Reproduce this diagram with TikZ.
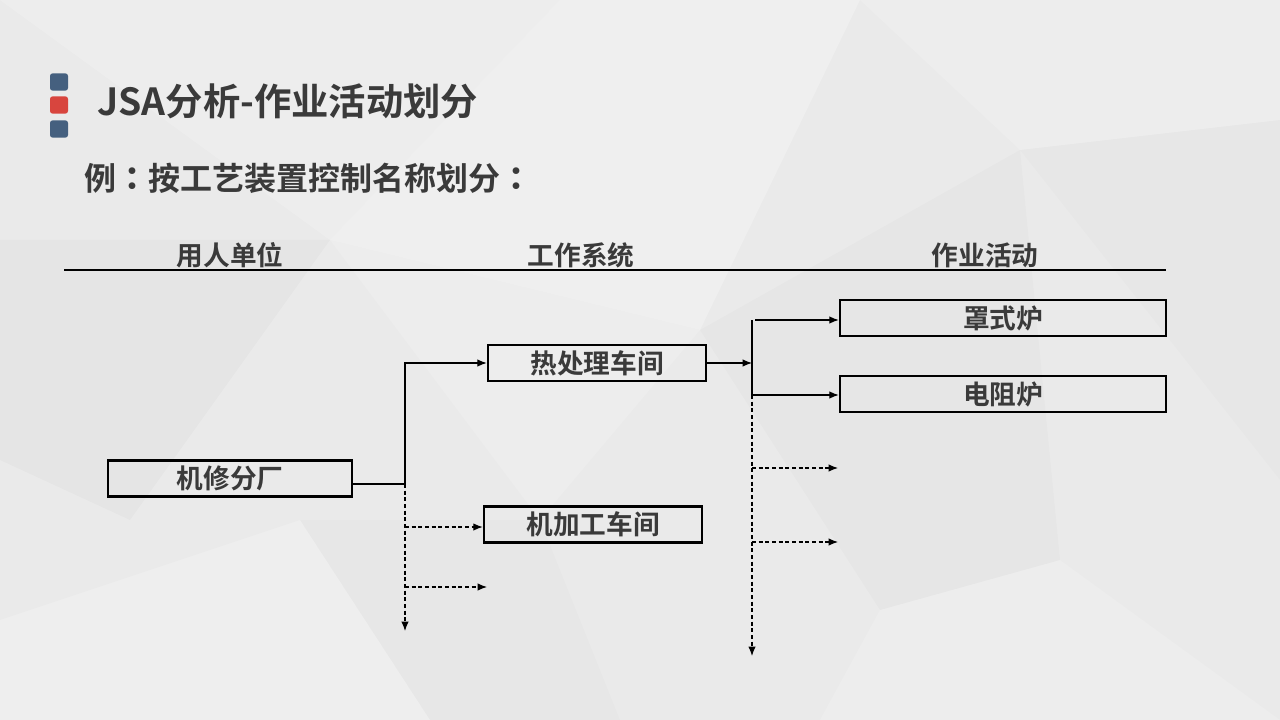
\documentclass[tikz,border=0pt]{standalone}
\usepackage{fontspec}
\setmainfont{Noto Sans CJK SC}[BoldFont={Noto Sans CJK SC Bold}]
\newfontfamily\tcfont{Noto Sans CJK TC Bold}
\usetikzlibrary{arrows.meta}
\definecolor{bgbase}{HTML}{EAEAEA}
\definecolor{txt}{HTML}{3A3A3A}
\definecolor{sqblue}{HTML}{45607F}
\definecolor{sqred}{HTML}{D8453E}
\tikzset{
  boxnode/.style={draw=black, line width=1.9pt, fill=none, minimum height=27pt, inner sep=0pt, font=\bfseries\fontsize{20}{20}\selectfont, text=txt},
  headlbl/.style={font=\bfseries\fontsize{20}{20}\selectfont, text=txt, inner sep=0pt},
  conn/.style={line width=0.8pt, draw=black},
  dsh/.style={dash pattern=on 3pt off 2pt},
  tip/.style={-{Latex[length=7pt,width=5.5pt]}},
  sq/.style={rounded corners=2pt, minimum width=13.5pt, minimum height=13pt, inner sep=0pt}
}
\begin{document}
\begin{tikzpicture}[x=0.75pt,y=-0.75pt]
\useasboundingbox (0,0) rectangle (1280,720);
% background
\fill[bgbase] (0,0) rectangle (1280,720);
\fill[white,opacity=0.18] (0,0) -- (560,0) -- (330,240) -- cycle;
\fill[white,opacity=0.25] (330,240) -- (560,0) -- (860,0) -- (700,330) -- cycle;
\fill[white,opacity=0.15] (860,0) -- (1280,0) -- (1280,120) -- (1020,150) -- cycle;
\fill[black,opacity=0.012] (1020,150) -- (1280,120) -- (1280,480) -- cycle;
\fill[black,opacity=0.018] (0,240) -- (330,240) -- (130,520) -- (0,460) -- cycle;
\fill[white,opacity=0.15] (330,240) -- (700,330) -- (540,520) -- cycle;
\fill[black,opacity=0.014] (700,330) -- (1020,150) -- (1060,560) -- (880,610) -- cycle;
\fill[white,opacity=0.2] (0,620) -- (300,520) -- (430,720) -- (0,720) -- cycle;
\fill[white,opacity=0.15] (880,610) -- (1060,560) -- (1280,720) -- (820,720) -- cycle;
\fill[black,opacity=0.012] (300,520) -- (540,520) -- (620,720) -- (430,720) -- cycle;
% title squares
\node[sq, fill=sqblue] (s1) at (59,82) {};
\node[sq, fill=sqred] (s2) at (59,105) {};
\node[sq, fill=sqblue] (s3) at (59,129) {};
\node[anchor=west, inner sep=0pt, text=txt, font=\bfseries\fontsize{28}{28}\selectfont] (title) at (97,101) {JSA分析-作业活动划分};
\node[anchor=west, inner sep=0pt, text=txt, font=\bfseries\fontsize{24}{24}\selectfont] (sub) at (84,178) {例{\tcfont ：}按工艺装置控制名称划分{\tcfont ：}};
% header
\node[headlbl] (h1) at (230,255) {用人单位};
\node[headlbl] (h2) at (581,255) {工作系统};
\node[headlbl] (h3) at (985,255) {作业活动};
\coordinate (hl) at (64,270);
\coordinate (hr) at (1166,270);
\draw[line width=0.8pt] (hl) -- (hr);
% boxes
\node[boxnode, minimum width=183pt] (a) at (230,478.5) {机修分厂};
\node[boxnode, minimum width=163.5pt] (b) at (597,363) {热处理车间};
\node[boxnode, minimum width=163.5pt] (c) at (593,524.5) {机加工车间};
\node[boxnode, minimum width=244.5pt] (d) at (1003,318) {罩式炉};
\node[boxnode, minimum width=244.5pt] (e) at (1003,394) {电阻炉};
% left tree
\coordinate (j1) at (405,484);
\coordinate (j1t) at (405,363);
\coordinate (j1d) at (405,527);
\coordinate (j1e) at (405,587);
\coordinate (j1end) at (405,631);
\coordinate (f1) at (487,587);
\draw[conn] (a.east |- j1) -- (j1);
\draw[conn, tip] (j1) -- (j1t) -- (b.west);
\draw[conn, dsh, tip] (j1) -- (j1end);
\draw[conn, dsh, tip] (j1d) -- (c.west |- j1d);
\draw[conn, dsh, tip] (j1e) -- (f1);
% right tree
\coordinate (j2) at (752,363);
\coordinate (j2t) at (752,320);
\coordinate (j2a) at (755,320);
\coordinate (j2b) at (752,395);
\coordinate (j2c) at (752,468);
\coordinate (j2d) at (752,542);
\coordinate (j2end) at (752,656);
\coordinate (g1) at (838,468);
\coordinate (g2) at (838,542);
\draw[conn, tip] (b.east) -- (j2);
\draw[conn] (j2t) -- (j2b);
\draw[conn, dsh, tip] (j2b) -- (j2end);
\draw[conn, tip] (j2a) -- (d.west |- j2a);
\draw[conn, tip] (j2b) -- (e.west |- j2b);
\draw[conn, dsh, tip] (j2c) -- (g1);
\draw[conn, dsh, tip] (j2d) -- (g2);
\end{tikzpicture}
\end{document}
